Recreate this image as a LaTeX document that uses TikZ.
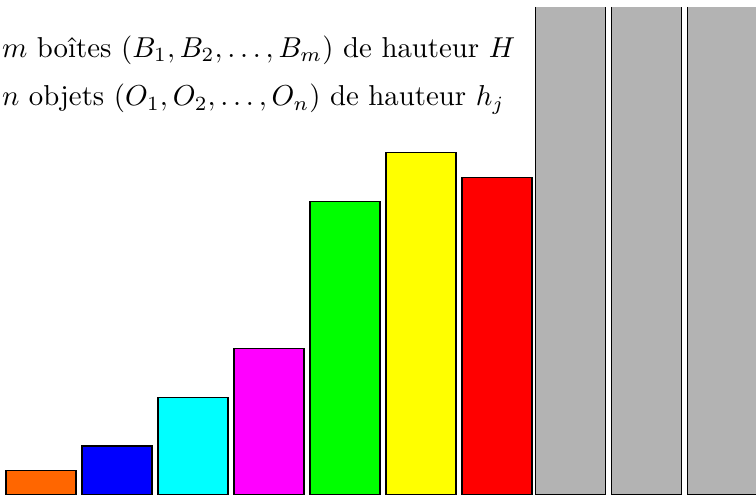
\documentclass[tikz,border=0pt]{standalone}
\usepackage{amsmath,amssymb}
\usetikzlibrary{positioning}
\definecolor{orangeobj}{RGB}{255,102,0}
\definecolor{bleuobj}{RGB}{0,0,255}
\definecolor{cyanobj}{RGB}{0,255,255}
\definecolor{magentaobj}{RGB}{255,0,255}
\definecolor{vertobj}{RGB}{0,255,0}
\definecolor{jauneobj}{RGB}{255,255,0}
\definecolor{rougeobj}{RGB}{255,0,0}
\definecolor{grisboite}{RGB}{179,179,179}

\begin{document}
\begin{tikzpicture}[node distance=2pt, bar/.style={draw, inner sep=0pt, outer sep=0pt, minimum width=23.33pt, anchor=south west}, boite/.style={fill=grisboite, inner sep=0pt, outer sep=0pt, minimum width=23.33pt, minimum height=162.7pt, anchor=south west}, legende/.style={anchor=base west, inner sep=0pt, scale=0.96}]
  \useasboundingbox (0,0) rectangle (252pt,165pt);
  \node[bar, fill=orangeobj, minimum height=8.15pt] (o1) at (2pt,0) {};
  \node[bar, fill=bleuobj, minimum height=16.3pt, above right=0pt and 2pt of o1.south east] (o2) {};
  \node[bar, fill=cyanobj, minimum height=32.6pt, above right=0pt and 2pt of o2.south east] (o3) {};
  \node[bar, fill=magentaobj, minimum height=48.9pt, above right=0pt and 2pt of o3.south east] (o4) {};
  \node[bar, fill=vertobj, minimum height=97.8pt, above right=0pt and 2pt of o4.south east] (o5) {};
  \node[bar, fill=jauneobj, minimum height=114.1pt, above right=0pt and 2pt of o5.south east] (o6) {};
  \node[bar, fill=rougeobj, minimum height=105.95pt, above right=0pt and 2pt of o6.south east] (o7) {};
  \node[boite, above right=0pt and 1.2pt of o7.south east] (b1) {};
  \node[boite, above right=0pt and 2pt of b1.south east] (b2) {};
  \node[boite, above right=0pt and 2pt of b2.south east] (b3) {};
  \foreach \b in {b1,b2,b3}
    \draw (\b.north west) -- (\b.south west) -- (\b.south east) -- (\b.north east);
  \node[legende] (l1) at (0.5pt,145.9pt) {$m$ boîtes $(B_1, B_2, \ldots, B_m)$ de hauteur $H$};
  \node[legende] (l2) at (0.5pt,129.7pt) {$n$ objets $(O_1, O_2, \ldots, O_n)$ de hauteur $h_j$};
\end{tikzpicture}
\end{document}
